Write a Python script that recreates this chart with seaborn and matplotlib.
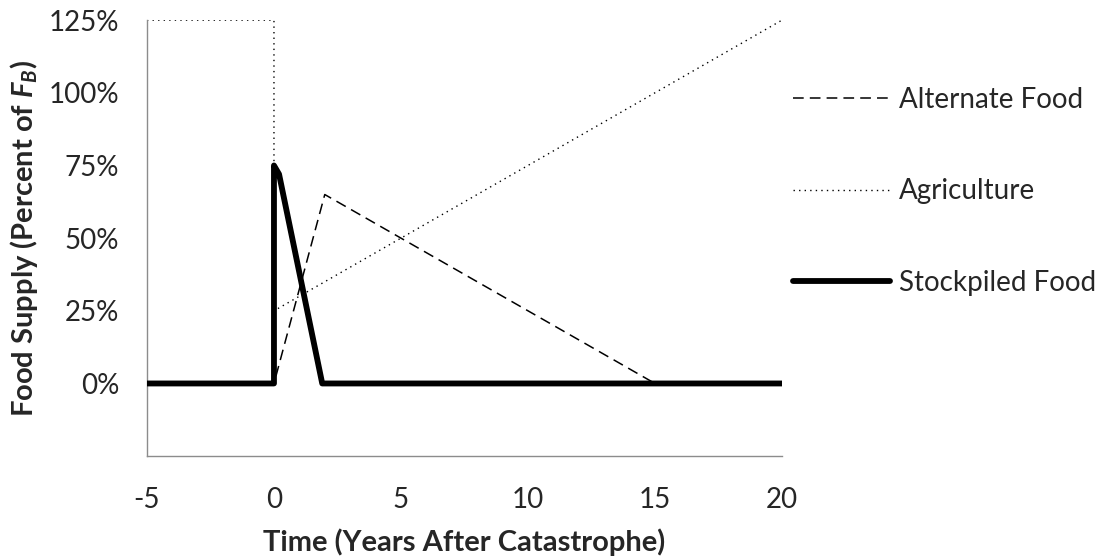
import matplotlib
matplotlib.use('Agg')
import matplotlib.pyplot as plt
import seaborn as sns

# Data (time in years, supply in percent of F_B)
alt_x = [-5, 0, 2, 15, 20]
alt_y = [0, 0, 65, 0, 0]

agri_x = [-5, 0, 0, 20]
agri_y = [125, 125, 25, 125]

stock_x = [-5, 0, 0, 0.2, 1.9, 20]
stock_y = [0, 0, 75, 72, 0, 0]

x_ticks = [-5, 0, 5, 10, 15, 20]
y_ticks = [-25, 0, 25, 50, 75, 100, 125]
y_ticklabels = ['', '0%', '25%', '50%', '75%', '100%', '125%']

sns.set_style('white')
plt.rcParams['font.family'] = ['Lato', 'DejaVu Sans']
plt.rcParams['axes.unicode_minus'] = False
plt.rcParams['mathtext.fontset'] = 'custom'
plt.rcParams['mathtext.it'] = 'Lato:bold:italic'
plt.rcParams['mathtext.rm'] = 'Lato:bold'

fig = plt.figure(figsize=(11, 5.59), dpi=100)
ax = fig.add_axes([0.1336, 0.184, 0.5773, 0.78])

sns.lineplot(x=alt_x, y=alt_y, estimator=None, sort=False, ax=ax,
             color='black', linewidth=1.1, dashes=False, label='Alternate Food')
ax.lines[-1].set_dashes([7, 4])
sns.lineplot(x=agri_x, y=agri_y, estimator=None, sort=False, ax=ax,
             color='black', linewidth=1.0, label='Agriculture')
ax.lines[-1].set_dashes([1, 3])
sns.lineplot(x=stock_x, y=stock_y, estimator=None, sort=False, ax=ax,
             color='black', linewidth=4.2, label='Stockpiled Food')
ax.lines[-1].set_zorder(5)
ax.lines[-1].set_solid_joinstyle('round')

ax.set_xlim(-5, 20)
ax.set_ylim(-25, 125)
ax.set_xticks(x_ticks)
ax.set_yticks(y_ticks)
ax.set_yticklabels(y_ticklabels)

for s in ['top', 'right']:
    ax.spines[s].set_visible(False)
for s in ['left', 'bottom']:
    ax.spines[s].set_color('#8c8c8c')
    ax.spines[s].set_linewidth(1.0)

ax.tick_params(axis='x', direction='out', length=7, width=1, color='#8c8c8c',
               pad=15, labelsize=20)
ax.tick_params(axis='y', direction='out', length=7, width=1, color='#8c8c8c',
               pad=13, labelsize=20)

ax.set_xlabel('Time (Years After Catastrophe)', fontsize=21, fontweight='bold', labelpad=11)
ax.set_ylabel(r'Food Supply (Percent of $F_B$)', fontsize=21, fontweight='bold', labelpad=6)

leg = ax.legend(loc='upper left', bbox_to_anchor=(1.0, 0.872), frameon=False,
                fontsize=20, handlelength=3.5, handletextpad=0.32,
                labelspacing=2.35, borderaxespad=0)

fig.savefig('out.png', dpi=100)
